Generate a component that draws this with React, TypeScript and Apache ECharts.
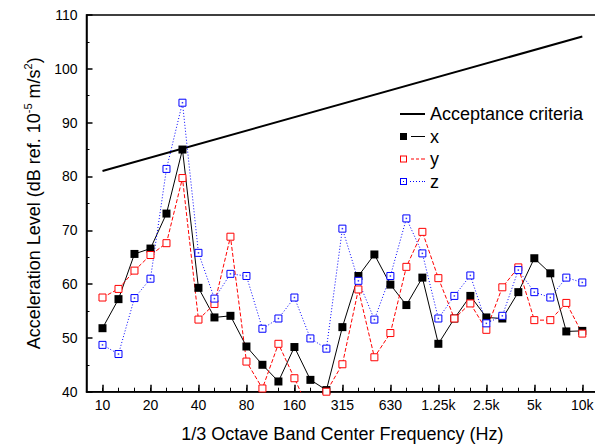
import React, { useEffect, useRef } from 'react';
import * as echarts from 'echarts';

// 1/3 octave band centre frequencies (Hz)
const categories = [
  '10', '12.5', '16', '20', '25', '31.5', '40', '50', '63', '80', '100', '125', '160', '200', '250',
  '315', '400', '500', '630', '800', '1k', '1.25k', '1.6k', '2k', '2.5k', '3.15k', '4k', '5k', '6.3k', '8k', '10k',
];
// bands that carry a tick label
const labelIndices = [0, 3, 6, 9, 12, 15, 18, 21, 24, 27, 30];

// Acceptance criteria (straight line between the first and the last band)
const acceptanceBand = [0, 30];
const acceptanceLevel = [81, 106];

// Measured acceleration levels (dB ref. 1e-5 m/s^2)
const xLevel = [
  51.8, 57.2, 65.6, 66.6, 73.1, 85.0, 59.3, 53.8, 54.1, 48.4, 45.0, 41.9, 48.3, 42.2, 40.3,
  52.0, 61.5, 65.5, 59.9, 56.1, 61.2, 48.9, 53.6, 57.8, 53.8, 53.6, 58.5, 64.8, 62.0, 51.2, 51.3,
];
const yLevel = [
  57.5, 59.1, 62.5, 65.4, 67.6, 79.7, 53.4, 56.3, 68.8, 45.6, 40.6, 48.9, 42.5, 36.0, 40.0,
  45.1, 59.0, 46.4, 50.9, 63.2, 69.7, 61.1, 53.6, 56.4, 51.5, 59.4, 63.1, 53.3, 53.3, 56.5, 50.8,
];
const zLevel = [
  48.7, 47.0, 57.4, 61.0, 81.4, 93.7, 65.8, 57.3, 61.9, 61.5, 51.7, 53.6, 57.5, 49.9, 48.0,
  70.3, 60.6, 53.4, 61.5, 72.2, 65.7, 53.6, 57.8, 61.6, 52.7, 54.1, 62.6, 58.5, 57.5, 61.2, 60.3,
];

const FONT = '"Liberation Sans", Arial, sans-serif';

// legend icons (Origin style: symbol on the left, line sample on the right)
const ICON_ACC = 'path://M0,2.5H25V4.5H0Z';
const ICON_X = 'path://M0,0H7V7H0Z M11,3H25V4H11Z';
const ICON_Y = 'path://M0,0H7V7H0Z M1,1V6H6V1Z M11,3H14V4H11Z M16,3H19V4H16Z M21,3H25V4H21Z';
const ICON_Z =
  'path://M0,0H7V7H0Z M1,1V6H6V1Z M3,3H4V4H3Z M10,3H11V4H10Z M13,3H14V4H13Z M16,3H17V4H16Z M19,3H20V4H19Z M22,3H23V4H22Z M24,3H25V4H24Z';

export default function App() {
  const ref = useRef<HTMLDivElement>(null);

  useEffect(() => {
    if (!ref.current) return;
    const chart = echarts.init(ref.current, null, { renderer: 'svg' });
    const pairs = (arr: number[]) => arr.map((v, i) => [i, v]);
    const allIdx = categories.map((_, i) => i);

    chart.setOption({
      animation: false,
      backgroundColor: '#fff',
      textStyle: { fontFamily: FONT },
      grid: {
        left: 86.5,
        right: -3.3,
        top: 15,
        bottom: 54.3,
        show: true,
        borderColor: '#000',
        borderWidth: 1.5,
        containLabel: false,
        outerBoundsMode: 'none',
      },
      legend: {
        orient: 'vertical',
        left: 400,
        top: 105,
        padding: 0,
        itemWidth: 25,
        itemHeight: 7,
        itemGap: 4.5,
        selectedMode: false,
        textStyle: { fontSize: 18, color: '#000', fontFamily: FONT, lineHeight: 18 },
        itemStyle: { borderWidth: 0 },
        data: [
          { name: 'Acceptance criteria', icon: ICON_ACC, itemStyle: { color: '#000', borderWidth: 0 } },
          { name: 'x', icon: ICON_X, itemStyle: { color: '#000', borderWidth: 0 } },
          { name: 'y', icon: ICON_Y, itemStyle: { color: '#ff0000', borderWidth: 0 } },
          { name: 'z', icon: ICON_Z, itemStyle: { color: '#0000ff', borderWidth: 0 } },
        ],
      },
      xAxis: [
        {
          type: 'value',
          min: -1,
          max: 31,
          position: 'bottom',
          axisLine: { show: true, onZero: false, lineStyle: { color: '#000', width: 1.5 } },
          axisTick: {
            show: true,
            inside: true,
            length: 7,
            customValues: labelIndices,
            lineStyle: { color: '#000', width: 1.5 },
          },
          axisLabel: {
            customValues: labelIndices,
            formatter: (v: number) => categories[Math.round(v)] ?? '',
            color: '#000',
            fontSize: 14,
            fontFamily: FONT,
            margin: 6,
          },
          splitLine: { show: false },
          name: '1/3 Octave Band Center Frequency (Hz)',
          nameLocation: 'middle',
          nameGap: 33,
          nameTextStyle: { fontSize: 18, color: '#000', fontFamily: FONT },
        },
        {
          type: 'value',
          min: -1,
          max: 31,
          position: 'bottom',
          axisLine: { show: false, onZero: false },
          axisTick: {
            show: true,
            inside: true,
            length: 4,
            customValues: allIdx,
            lineStyle: { color: '#000', width: 1 },
          },
          axisLabel: { show: false },
          splitLine: { show: false },
        },
      ],
      yAxis: {
        type: 'value',
        min: 40,
        max: 110,
        interval: 10,
        axisLine: { show: true, onZero: false, lineStyle: { color: '#000', width: 1.5 } },
        axisTick: { show: true, inside: true, length: 6, lineStyle: { color: '#000', width: 1.5 } },
        minorTick: { show: true, splitNumber: 2, length: 3, lineStyle: { color: '#000', width: 1 } },
        axisLabel: { color: '#000', fontSize: 14, fontFamily: FONT, margin: 9 },
        splitLine: { show: false },
        name: '{a|Acceleration Level (dB ref. 10}{s|-5}{a| m/s}{s|2}{a|)}',
        nameLocation: 'middle',
        nameRotate: 90,
        nameGap: 42,
        nameTextStyle: {
          color: '#000',
          fontFamily: FONT,
          rich: {
            a: { fontSize: 18, fontFamily: FONT, color: '#000', lineHeight: 22 },
            s: { fontSize: 11, fontFamily: FONT, color: '#000', lineHeight: 14, verticalAlign: 'top' },
          },
        },
      },
      series: [
        {
          name: 'Acceptance criteria',
          type: 'line',
          xAxisIndex: 0,
          data: acceptanceBand.map((b, i) => [b, acceptanceLevel[i]]),
          symbol: 'none',
          lineStyle: { color: '#000', width: 2 },
          itemStyle: { color: '#000' },
        },
        {
          name: 'x',
          type: 'line',
          xAxisIndex: 0,
          data: pairs(xLevel),
          symbol: 'rect',
          symbolSize: 8,
          lineStyle: { color: '#000', width: 1 },
          itemStyle: { color: '#000' },
        },
        {
          name: 'y',
          type: 'line',
          xAxisIndex: 0,
          data: pairs(yLevel),
          symbol: 'rect',
          symbolSize: 7,
          lineStyle: { color: '#ff0000', width: 1, type: [4, 2] },
          itemStyle: { color: '#fff', borderColor: '#ff0000', borderWidth: 1 },
        },
        {
          name: 'z',
          type: 'line',
          xAxisIndex: 0,
          data: pairs(zLevel),
          symbol: 'rect',
          symbolSize: 7,
          lineStyle: { color: '#0000ff', width: 1, type: [1, 2] },
          itemStyle: { color: '#fff', borderColor: '#0000ff', borderWidth: 1 },
        },
        {
          name: 'z-dot',
          type: 'scatter',
          xAxisIndex: 0,
          data: pairs(zLevel),
          symbol: 'rect',
          symbolSize: 1.5,
          silent: true,
          z: 3,
          itemStyle: { color: '#0000ff' },
        },
      ],
    });

    return () => chart.dispose();
  }, []);

  return <div ref={ref} style={{ position: 'fixed', left: 0, top: 0, width: 595, height: 446 }} />;
}
